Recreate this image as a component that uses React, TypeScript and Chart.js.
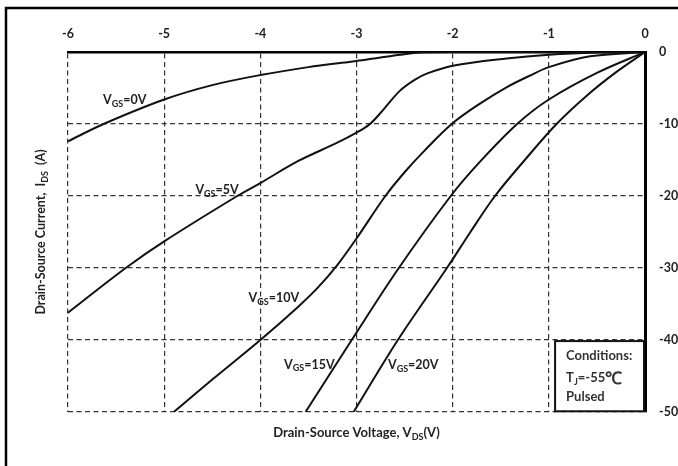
import { useEffect, useRef } from "react";
import { Chart, registerables } from "chart.js";

Chart.register(...registerables);

// ---- data ----
const VDS_MIN = -6;
const VDS_MAX = 0;
const IDS_MIN = -50;
const IDS_MAX = 0;

const VGS0_VDS = [-6, -5.63, -5, -4.5, -4, -3.5, -3, -2.75, -2.5, -2.3, -2, 0];
const VGS0_IDS = [-12.4, -10, -6.6, -4.6, -3.2, -2.1, -1.25, -0.75, -0.3, -0.05, 0, 0];

const VGS5_VDS = [-6, -5.4, -5, -4.24, -4, -3.6, -3.2, -3, -2.86, -2.72, -2.55, -2.4, -2.27, -2, -1.44, -1, -0.5, 0];
const VGS5_IDS = [-36.2, -30, -26.3, -20, -18.2, -15.1, -12.6, -11.2, -10, -8.0, -5.4, -3.9, -3.0, -1.9, -0.9, -0.38, -0.08, 0];

const VGS10_VDS = [-4.9, -4.5, -4, -3.6, -3.4, -3.2, -3, -2.7, -2.5, -2.3, -2.01, -1.72, -1.44, -1.2, -1, -0.57, 0];
const VGS10_IDS = [-50, -45.5, -40, -35.3, -32.7, -29.6, -25.9, -20, -16.7, -13.8, -10, -7.2, -4.9, -3.3, -2.1, -0.6, 0];

const VGS15_VDS = [-3.53, -3.05, -2.56, -2.02, -1.72, -1.33, -1, -0.5, 0];
const VGS15_IDS = [-50, -40, -30, -20, -15.3, -10, -6.6, -2.9, 0];

const VGS20_VDS = [-3.03, -2.57, -2.06, -1.82, -1.56, -1.25, -0.92, -0.6, -0.3, 0];
const VGS20_IDS = [-50, -40, -30, -25.1, -20, -15.0, -10, -6.0, -2.8, 0];

const SERIES_LABELS = ["0V", "5V", "10V", "15V", "20V"];

// label anchors (data coordinates) for the V_GS annotations
const LABEL_VDS = [-5.41, -4.45, -3.86, -3.49, -2.41];
const LABEL_IDS = [-6.7, -19.2, -34.2, -43.4, -43.5];

const X_TITLE = ["Drain-Source Voltage, V", "DS", "(V)"];
const Y_TITLE = ["Drain-Source Current,  I", "DS", "  (A)"];
const CONDITIONS = ["Conditions:", "T", "J", "=-55", "\u2103", "Pulsed"];

const FAMILY = "Lato, 'Liberation Sans', sans-serif";
const INK = "#222";

type Part = { t: string; sub?: boolean; size?: number };

function drawRich(
  ctx: CanvasRenderingContext2D,
  parts: Part[],
  x: number,
  y: number,
  size: number,
  align: "left" | "center"
) {
  const subSize = Math.round(size * 0.68);
  const fontFor = (p: Part) =>
    `bold ${p.sub ? subSize : p.size ?? size}px ${FAMILY}`;
  let total = 0;
  const widths = parts.map((p) => {
    ctx.font = fontFor(p);
    const w = ctx.measureText(p.t).width;
    total += w;
    return w;
  });
  let cx = align === "center" ? x - total / 2 : x;
  ctx.textBaseline = "middle";
  ctx.textAlign = "left";
  parts.forEach((p, i) => {
    ctx.font = fontFor(p);
    ctx.fillText(p.t, cx, p.sub ? y + size * 0.3 : y);
    cx += widths[i];
  });
}

const annotationPlugin = {
  id: "annotations",
  afterDatasetsDraw(chart: any) {
    const { ctx, chartArea, scales } = chart;
    const xs = scales.x;
    const ys = scales.y;
    ctx.save();
    ctx.fillStyle = INK;

    // V_GS labels
    SERIES_LABELS.forEach((lab, i) => {
      const px = xs.getPixelForValue(LABEL_VDS[i]);
      const py = ys.getPixelForValue(LABEL_IDS[i]);
      drawRich(ctx, [{ t: "V" }, { t: "GS", sub: true }, { t: "=" + lab }], px, py, 12.5, "center");
    });

    // conditions box
    const bl = xs.getPixelForValue(-0.935);
    const bt = ys.getPixelForValue(-40.15);
    const bb = ys.getPixelForValue(-49.9);
    const br = chartArea.right - 1;
    ctx.fillStyle = "#fff";
    ctx.fillRect(bl, bt, br - bl, bb - bt);
    ctx.strokeStyle = "#111";
    ctx.lineWidth = 2;
    ctx.strokeRect(bl, bt, br - bl, bb - bt);
    ctx.fillStyle = "#333";
    drawRich(ctx, [{ t: CONDITIONS[0] }], bl + 11, bt + 15, 13, "left");
    drawRich(
      ctx,
      [{ t: CONDITIONS[1] }, { t: CONDITIONS[2], sub: true }, { t: CONDITIONS[3] }, { t: CONDITIONS[4], size: 17 }],
      bl + 11,
      bt + 37,
      13,
      "left"
    );
    drawRich(ctx, [{ t: CONDITIONS[5] }], bl + 11, bt + 56, 13, "left");

    // axis titles
    ctx.fillStyle = INK;
    const cxMid = (chartArea.left + chartArea.right) / 2;
    drawRich(
      ctx,
      [{ t: X_TITLE[0] }, { t: X_TITLE[1], sub: true }, { t: X_TITLE[2] }],
      cxMid,
      chartArea.bottom + 21,
      13,
      "center"
    );
    const cyMid = (chartArea.top + chartArea.bottom) / 2;
    ctx.save();
    ctx.translate(41, cyMid);
    ctx.rotate(-Math.PI / 2);
    drawRich(ctx, [{ t: Y_TITLE[0] }, { t: Y_TITLE[1], sub: true }, { t: Y_TITLE[2] }], 0, 0, 12.5, "center");
    ctx.restore();

    // outer frame (left and top edges visible)
    ctx.strokeStyle = "#000";
    ctx.lineWidth = 2.5;
    ctx.beginPath();
    ctx.moveTo(6, chart.height);
    ctx.lineTo(6, 8);
    ctx.lineTo(chart.width, 8);
    ctx.stroke();
    ctx.restore();
  },
};

function toPoints(xs: number[], ys: number[]) {
  return xs.map((x, i) => ({ x, y: ys[i] }));
}

export default function App() {
  const ref = useRef<HTMLCanvasElement | null>(null);
  useEffect(() => {
    document.body.style.margin = "0";
    if (!ref.current) return;
    const series = [
      toPoints(VGS0_VDS, VGS0_IDS),
      toPoints(VGS5_VDS, VGS5_IDS),
      toPoints(VGS10_VDS, VGS10_IDS),
      toPoints(VGS15_VDS, VGS15_IDS),
      toPoints(VGS20_VDS, VGS20_IDS),
    ];
    const tickFont = { family: FAMILY, size: 12.5, weight: "bold" as const };
    const chart = new Chart(ref.current, {
      type: "line",
      data: {
        datasets: series.map((d, i) => ({
          label: "VGS=" + SERIES_LABELS[i],
          data: d,
          borderColor: "#111",
          borderWidth: 2,
          pointRadius: 0,
          fill: false,
          tension: 0.35,
        })),
      },
      options: {
        animation: false,
        responsive: false,
        devicePixelRatio: 1,
        layout: { padding: { left: 68, top: 0, right: 0, bottom: 54 } },
        plugins: { legend: { display: false }, tooltip: { enabled: false } },
        scales: {
          x: {
            type: "linear",
            position: "top",
            min: VDS_MIN,
            max: VDS_MAX,
            afterFit: (s: any) => {
              s.height = 52;
            },
            ticks: { stepSize: 1, color: INK, font: tickFont, padding: 11, maxRotation: 0 },
            grid: { color: "#333", lineWidth: 1.2, drawTicks: false },
            border: { display: true, color: "#000", width: 2.5, dash: [5, 3.5] },
          },
          y: {
            type: "linear",
            position: "right",
            min: IDS_MIN,
            max: IDS_MAX,
            afterFit: (s: any) => {
              s.width = 33;
            },
            ticks: { stepSize: 10, color: INK, font: tickFont, padding: 14 },
            grid: { color: "#333", lineWidth: 1.2, drawTicks: false },
            border: { display: true, color: "#000", width: 3, dash: [5, 3.5] },
          },
        },
      },
      plugins: [annotationPlugin],
    });
    return () => chart.destroy();
  }, []);
  return (
    <div style={{ position: "absolute", left: 0, top: 0, width: 678, height: 466, background: "#fff" }}>
      <canvas ref={ref} width={678} height={466} style={{ display: "block" }} />
    </div>
  );
}
